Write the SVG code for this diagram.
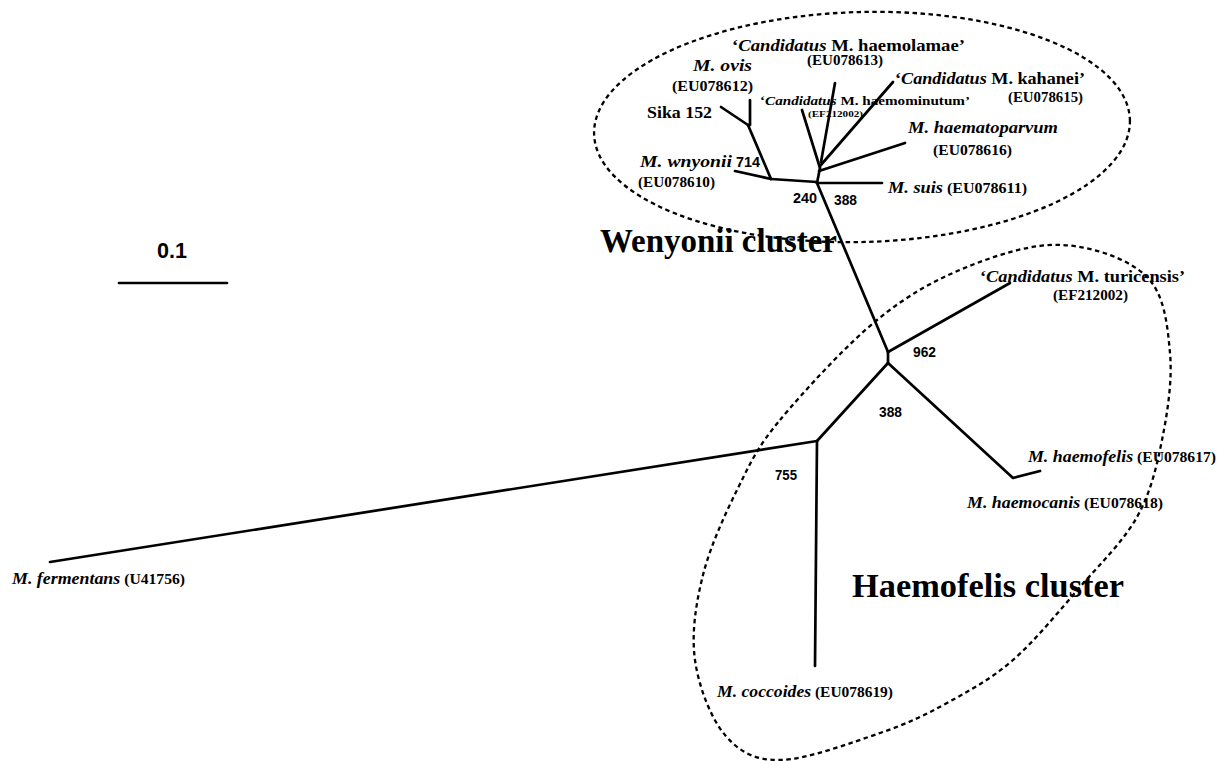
<svg xmlns="http://www.w3.org/2000/svg" width="1219" height="761" viewBox="0 0 1219 761">
<style>
.bg{fill:#fff}
.br{stroke:#000;stroke-width:2.7;fill:none;stroke-linecap:round;stroke-linejoin:round}
.hull{fill:none;stroke:#000;stroke-width:2.3;stroke-dasharray:4.5 3.5}
.lbl{font-family:"Liberation Serif","DejaVu Serif",serif;font-weight:bold;fill:#000}
.sp{font-size:16px}
.acc{font-size:14px}
.i{font-style:italic}
.num{font-family:"Liberation Sans",Arial,sans-serif;font-weight:bold;font-size:15px;fill:#000}
.cl{font-family:"Liberation Serif","DejaVu Serif",serif;font-weight:bold;font-size:33px;fill:#000}
</style>
<rect class="bg" x="0" y="0" width="1219" height="761"/>

<g id="clusters">
  <ellipse id="wenyonii-hull" class="hull" cx="862" cy="127" rx="268" ry="115" transform="rotate(-1.5 862 127)"/>
  <path id="haemofelis-hull" class="hull" d="M780,420 C803.2,392 845.8,345.5 877,320 C908.2,294.5 936,279.5 967,267 C998,254.5 1033,243.3 1063,245 C1093,246.7 1129.2,259 1147,277 C1164.8,295 1167.5,325.8 1170,353 C1172.5,380.2 1167.5,412.7 1162,440 C1156.5,467.3 1150.7,492.5 1137,517 C1123.3,541.5 1100.7,563.2 1080,587 C1059.3,610.8 1035.2,640.7 1013,660 C990.8,679.3 969.2,690.8 947,703 C924.8,715.2 907.8,723.5 880,733 C852.2,742.5 805.8,759.7 780,760 C754.2,760.3 739.2,751.7 725,735 C710.8,718.3 698.7,686.7 695,660 C691.3,633.3 695.8,603.7 703,575 C710.2,546.3 725.2,513.8 738,488 C750.8,462.2 756.8,448 780,420 Z"/>
  <text class="cl" x="600" y="252" textLength="237" lengthAdjust="spacingAndGlyphs">Wenyonii cluster</text>
  <text class="cl" x="852" y="597" textLength="272" lengthAdjust="spacingAndGlyphs">Haemofelis cluster</text>
</g>

<g id="connectors">
  <path class="br" d="M735,171 L771,179"/>
  <path class="br" d="M721,107 L748,125"/>
  <path class="br" d="M750,100 L750,125"/>
  <path class="br" d="M748,125 L771,179"/>
  <path class="br" d="M771,179 L817,182"/>
  <path class="br" d="M817,183 L820,168"/>
  <path class="br" d="M802,110 L820,168"/>
  <path class="br" d="M835,83 L821,162"/>
  <path class="br" d="M893,82 L820,166"/>
  <path class="br" d="M905,143 L819,171"/>
  <path class="br" d="M817,183 L882,183"/>
  <path class="br" d="M817,183 L888,352"/>
  <path class="br" d="M888,352 L1010,283"/>
  <path class="br" d="M888,352 L888,363"/>
  <path class="br" d="M888,363 L1013,478 L1040,471"/>
  <path class="br" d="M888,363 L817,441"/>
  <path class="br" d="M817,441 L50,562"/>
  <path class="br" d="M817,441 L815,666"/>
</g>

<g id="scale">
  <text class="num" x="157" y="258" style="font-size:22px" textLength="30" lengthAdjust="spacingAndGlyphs">0.1</text>
  <path class="br" d="M119,283 L227,283"/>
</g>

<g id="bootstrap">
  <text class="num" x="736" y="167" textLength="24" lengthAdjust="spacingAndGlyphs">714</text>
  <text class="num" x="793" y="203" textLength="24" lengthAdjust="spacingAndGlyphs">240</text>
  <text class="num" x="834" y="205" textLength="23" lengthAdjust="spacingAndGlyphs">388</text>
  <text class="num" x="913" y="357" textLength="23" lengthAdjust="spacingAndGlyphs">962</text>
  <text class="num" x="879" y="417" textLength="23" lengthAdjust="spacingAndGlyphs">388</text>
  <text class="num" x="775" y="480" textLength="22" lengthAdjust="spacingAndGlyphs">755</text>
</g>

<g id="m-ovis">
  <text class="lbl sp i" x="693" y="71" textLength="59" lengthAdjust="spacingAndGlyphs">M. ovis</text>
  <text class="lbl acc" x="672" y="91" textLength="81" lengthAdjust="spacingAndGlyphs">(EU078612)</text>
</g>
<g id="sika-152">
  <text class="lbl" x="647" y="118" style="font-size:17px" textLength="65" lengthAdjust="spacingAndGlyphs">Sika 152</text>
</g>
<g id="haemolamae">
  <text class="lbl sp" x="732" y="51" textLength="233" lengthAdjust="spacingAndGlyphs">‘<tspan class="i">Candidatus</tspan> M. haemolamae’</text>
  <text class="lbl acc" x="807" y="65" textLength="76" lengthAdjust="spacingAndGlyphs">(EU078613)</text>
</g>
<g id="kahanei">
  <text class="lbl sp" x="895" y="84" textLength="190" lengthAdjust="spacingAndGlyphs">‘<tspan class="i">Candidatus</tspan> M. kahanei’</text>
  <text class="lbl acc" x="1008" y="102" textLength="75" lengthAdjust="spacingAndGlyphs">(EU078615)</text>
</g>
<g id="haemominutum">
  <text class="lbl" x="760" y="105" style="font-size:12.5px" textLength="210" lengthAdjust="spacingAndGlyphs">‘<tspan class="i">Candidatus</tspan> M. haemominutum’</text>
  <text class="lbl" x="808" y="117" style="font-size:8.5px" textLength="55" lengthAdjust="spacingAndGlyphs">(EF212002)</text>
</g>
<g id="haematoparvum">
  <text class="lbl sp i" x="908" y="133" textLength="150" lengthAdjust="spacingAndGlyphs">M. haematoparvum</text>
  <text class="lbl acc" x="933" y="155" textLength="79" lengthAdjust="spacingAndGlyphs">(EU078616)</text>
</g>
<g id="m-suis">
  <text class="lbl sp" x="888" y="193" textLength="139" lengthAdjust="spacingAndGlyphs"><tspan class="i">M. suis</tspan><tspan style="font-size:14px"> (EU078611)</tspan></text>
</g>
<g id="m-wenyonii">
  <text class="lbl sp i" x="640" y="167" textLength="92" lengthAdjust="spacingAndGlyphs">M. wnyonii</text>
  <text class="lbl acc" x="638" y="187" textLength="77" lengthAdjust="spacingAndGlyphs">(EU078610)</text>
</g>
<g id="turicensis">
  <text class="lbl sp" x="980" y="282" textLength="205" lengthAdjust="spacingAndGlyphs">‘<tspan class="i">Candidatus</tspan> M. turicensis’</text>
  <text class="lbl acc" x="1053" y="300" textLength="75" lengthAdjust="spacingAndGlyphs">(EF212002)</text>
</g>
<g id="m-haemofelis">
  <text class="lbl sp" x="1028" y="462" textLength="188" lengthAdjust="spacingAndGlyphs"><tspan class="i">M. haemofelis</tspan><tspan style="font-size:14px"> (EU078617)</tspan></text>
</g>
<g id="m-haemocanis">
  <text class="lbl sp" x="967" y="508" textLength="196" lengthAdjust="spacingAndGlyphs"><tspan class="i">M. haemocanis</tspan><tspan style="font-size:14px"> (EU078618)</tspan></text>
</g>
<g id="m-coccoides">
  <text class="lbl sp" x="717" y="697" textLength="176" lengthAdjust="spacingAndGlyphs"><tspan class="i">M. coccoides</tspan><tspan style="font-size:14px"> (EU078619)</tspan></text>
</g>
<g id="m-fermentans">
  <text class="lbl sp" x="12" y="584" textLength="173" lengthAdjust="spacingAndGlyphs"><tspan class="i">M. fermentans</tspan><tspan style="font-size:14px"> (U41756)</tspan></text>
</g>
</svg>
